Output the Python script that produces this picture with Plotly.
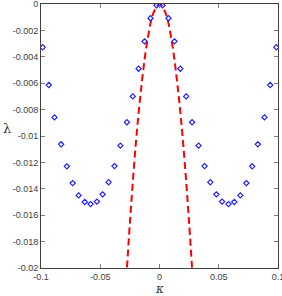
import plotly.graph_objects as go

kappa_pos = [0.0025, 0.0076, 0.0126, 0.0176, 0.0225, 0.0275, 0.0330, 0.0380, 0.0429, 0.0480,
             0.0528, 0.0582, 0.0631, 0.0682, 0.0733, 0.0782, 0.0830, 0.0886, 0.0934, 0.0986]
lambda_pos = [-0.0001, -0.00108, -0.00283, -0.0049, -0.0070, -0.00896, -0.01073, -0.01228, -0.0135, -0.01442,
              -0.01497, -0.01516, -0.0150, -0.0145, -0.01357, -0.0123, -0.01063, -0.00859, -0.00614, -0.00328]

kappa_pts = [-k for k in reversed(kappa_pos)] + kappa_pos
lambda_pts = list(reversed(lambda_pos)) + lambda_pos

fit_kappa = [-0.0280, -0.025, -0.020, -0.015, -0.010, -0.005, 0.0, 0.005, 0.010, 0.015, 0.020, 0.025, 0.0280]
fit_lambda = [-0.0208, -0.0166, -0.0106, -0.0060, -0.00265, -0.00066, 0.0, -0.00066, -0.00265, -0.0060, -0.0106, -0.0166, -0.0208]

x_ticks = [-0.1, -0.05, 0, 0.05, 0.1]
x_labels = ["-0.1", "-0.05", "0", "0.05", "0.1"]
y_ticks = [0, -0.002, -0.004, -0.006, -0.008, -0.01, -0.012, -0.014, -0.016, -0.018, -0.02]
y_labels = ["0", "-0.002", "-0.004", "-0.006", "-0.008", "-0.01", "-0.012", "-0.014", "-0.016", "-0.018", "-0.02"]

fig = go.Figure()
fig.add_trace(go.Scatter(x=fit_kappa, y=fit_lambda, mode="lines", line_shape="spline",
                         line=dict(color="#ff0000", width=2, dash="7px,4px"), showlegend=False))
fig.add_trace(go.Scatter(x=kappa_pts, y=lambda_pts, mode="markers",
                         marker=dict(symbol="diamond-open", size=4, color="#2020ff", line=dict(width=1.2, color="#2020ff")),
                         showlegend=False))

axis_common = dict(showgrid=False, zeroline=False, showline=True, linecolor="#404040", linewidth=1,
                   mirror="ticks", ticks="inside", ticklen=4, tickcolor="#808080", automargin=False,
                   ticklabeloverflow="allow",
                   tickfont=dict(family="Liberation Sans, Arial, sans-serif", size=9, color="#404040"))

fig.update_xaxes(range=[-0.1, 0.1], tickvals=x_ticks, ticktext=x_labels, **axis_common)
fig.update_yaxes(range=[-0.02, 0], tickvals=y_ticks, ticktext=y_labels, **axis_common)

fig.update_layout(
    width=282, height=296,
    margin=dict(l=41, r=4, t=4, b=28, autoexpand=False),
    plot_bgcolor="white", paper_bgcolor="white",
    annotations=[
        dict(text="λ", xref="paper", yref="paper", x=0, y=0.5, xshift=-34, yshift=8,
             xanchor="center", yanchor="middle", showarrow=False,
             font=dict(family="DejaVu Serif, serif", size=13, color="#404040")),
        dict(text="<i>κ</i>", xref="paper", yref="paper", x=0.5, y=0, yshift=-21,
             xanchor="center", yanchor="middle", showarrow=False,
             font=dict(family="DejaVu Serif, serif", size=12, color="#404040")),
    ],
)

fig.write_html("out.html", config={"displayModeBar": False},
               post_script="document.body.style.margin='0';document.body.style.overflow='hidden';")
